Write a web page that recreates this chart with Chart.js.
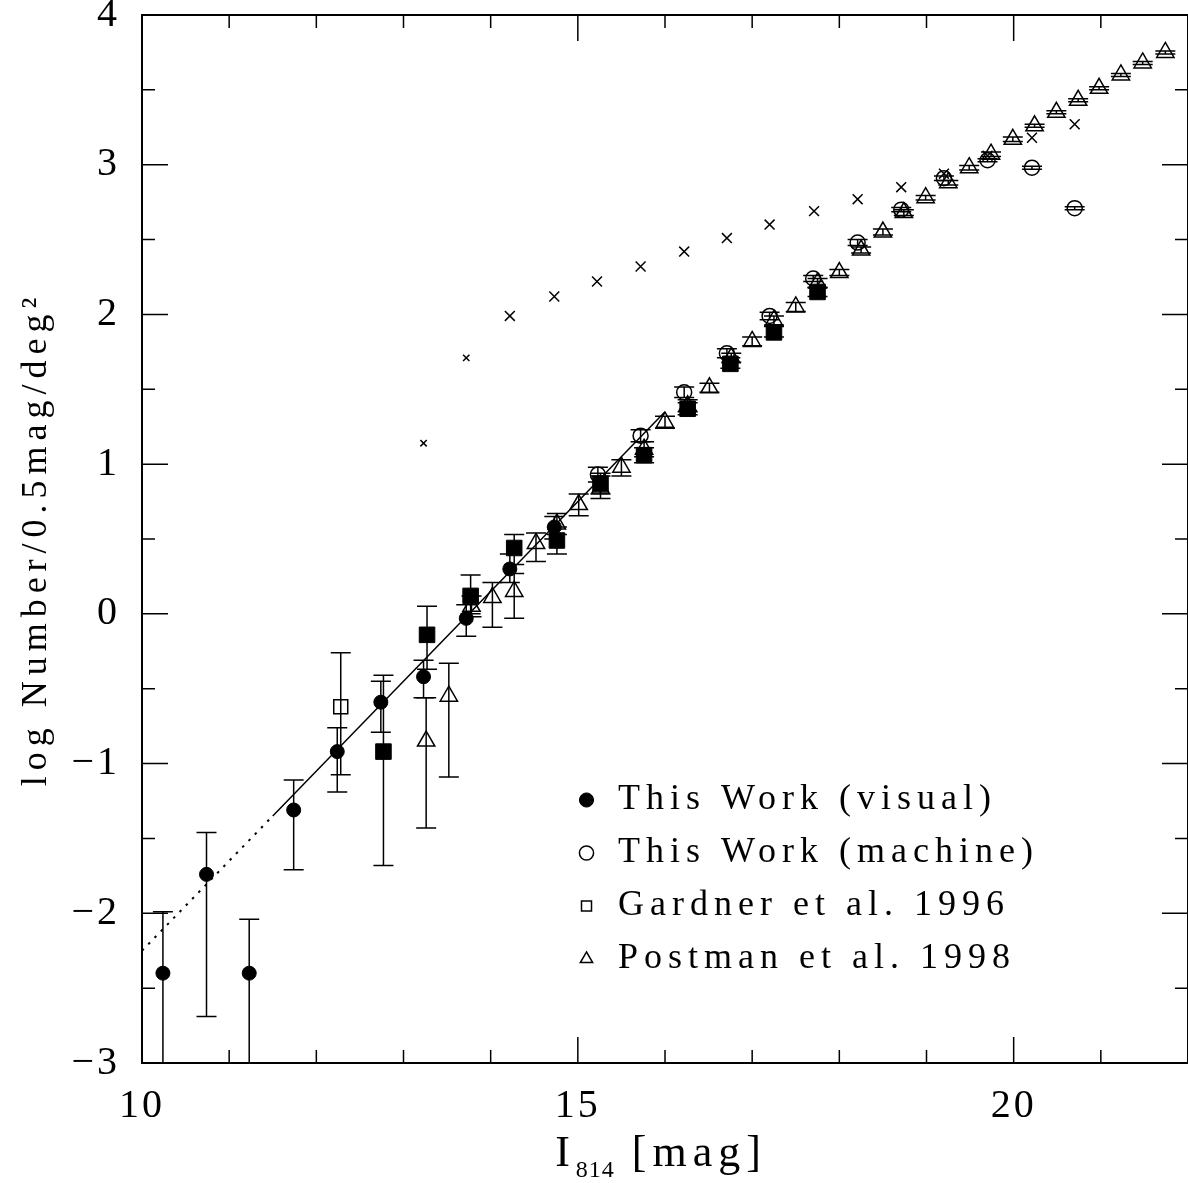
<!DOCTYPE html>
<html>
<head>
<meta charset="utf-8">
<title>I814 number counts</title>
<script src="https://cdn.jsdelivr.net/npm/chart.js@4.4.0/dist/chart.umd.min.js"></script>
<style>
  html, body { margin: 0; padding: 0; background: #fff; overflow: hidden; }
  #wrap { width: 1188px; height: 1183px; overflow: hidden; }
  canvas { display: block; }
</style>
</head>
<body>
<div id="wrap"><canvas id="counts" width="1200" height="1183"></canvas></div>
<script>
// ---- This Work (visual): filled circles ----
const visualMag  = [10.24, 10.74, 11.23, 11.74, 12.24, 12.74, 13.23, 13.72, 14.22, 14.73];
const visualLogN = [-2.40, -1.74, -2.40, -1.31, -0.92, -0.59, -0.42, -0.03, 0.30, 0.58];
const visualLo   = [-3.60, -2.69, -3.60, -1.71, -1.19, -0.79, -0.56, -0.15, 0.21, 0.50];
const visualHi   = [-1.99, -1.46, -2.04, -1.11, -0.76, -0.45, -0.31, 0.06, 0.40, 0.65];

// ---- visual counts, second binning: filled squares ----
const binMag  = [12.77, 13.27, 13.77, 14.27, 14.76, 15.26, 15.76, 16.26, 16.75, 17.25, 17.75];
const binLogN = [-0.92, -0.14, 0.12, 0.44, 0.49, 0.87, 1.06, 1.37, 1.67, 1.88, 2.15];
const binLo   = [-1.68, -0.37, 0.00, 0.33, 0.40, 0.80, 1.01, 1.33, 1.64, 1.85, 2.12];
const binHi   = [-0.41, 0.05, 0.26, 0.53, 0.58, 0.94, 1.11, 1.41, 1.71, 1.92, 2.18];

// ---- This Work (machine): open circles ----
const machineMag  = [15.23, 15.72, 16.22, 16.71, 17.20, 17.70, 18.21, 18.71, 19.20, 19.70, 20.21, 20.70];
const machineLogN = [0.93, 1.19, 1.48, 1.74, 1.99, 2.24, 2.48, 2.70, 2.91, 3.03, 2.98, 2.71];
const machineLo   = [0.88, 1.15, 1.445, 1.71, 1.965, 2.22, 2.46, 2.685, 2.895, 3.02, 2.97, 2.70];
const machineHi   = [0.98, 1.23, 1.515, 1.77, 2.015, 2.26, 2.50, 2.715, 2.925, 3.04, 2.99, 2.72];

// ---- Gardner et al. 1996: open square ----
const gardnerMag  = [12.28];
const gardnerLogN = [-0.62];
const gardnerLo   = [-1.075];
const gardnerHi   = [-0.26];

// ---- Postman et al. 1998: open triangles ----
const postmanMag  = [13.26, 13.52, 13.78, 14.02, 14.27, 14.52, 14.76, 15.01, 15.26, 15.50, 15.76, 16.00,
                     16.26, 16.51, 16.76, 17.00, 17.25, 17.50, 17.75, 18.00, 18.25, 18.50, 18.74, 18.99,
                     19.25, 19.49, 19.74, 19.99, 20.24, 20.49, 20.74, 20.98, 21.23, 21.48, 21.74];
const postmanLogN = [-0.85, -0.55, 0.05, 0.11, 0.15, 0.47, 0.60, 0.73, 0.84, 0.98, 1.10, 1.28,
                     1.39, 1.51, 1.71, 1.82, 1.96, 2.05, 2.21, 2.28, 2.43, 2.55, 2.68, 2.78,
                     2.88, 2.98, 3.07, 3.17, 3.26, 3.35, 3.43, 3.51, 3.60, 3.68, 3.75];
const postmanLo   = [-1.43, -1.09, -0.02, -0.09, -0.03, 0.35, 0.53, 0.655, 0.77, 0.92, 1.05, 1.24,
                     1.35, 1.48, 1.68, 1.79, 1.93, 2.02, 2.18, 2.26, 2.41, 2.53, 2.66, 2.765,
                     2.865, 2.965, 3.055, 3.155, 3.25, 3.34, 3.42, 3.50, 3.59, 3.67, 3.74];
const postmanHi   = [-0.56, -0.33, 0.12, 0.21, 0.27, 0.54, 0.67, 0.80, 0.92, 1.03, 1.15, 1.32,
                     1.43, 1.54, 1.74, 1.85, 1.99, 2.08, 2.24, 2.30, 2.45, 2.57, 2.70, 2.795,
                     2.895, 2.995, 3.085, 3.185, 3.27, 3.36, 3.44, 3.52, 3.61, 3.69, 3.76];

// ---- star counts: crosses ----
const starMag  = [13.23, 13.72, 14.22, 14.73, 15.22, 15.72, 16.22, 16.71, 17.20, 17.71, 18.21, 18.71, 19.20, 19.70, 20.21, 20.70];
const starLogN = [1.14, 1.71, 1.99, 2.12, 2.22, 2.32, 2.42, 2.51, 2.60, 2.69, 2.77, 2.85, 2.94, 3.06, 3.18, 3.27];

// ---- power-law fit (solid) and its bright-end extrapolation (dotted) ----
const fitMag  = [11.5, 16.0];
const fitLogN = [-1.35, 1.35];
const extMag  = [10.0, 11.5];
const extLogN = [-2.25, -1.35];

// ---- axes ----
const xTickValues = [10, 15, 20];
const yTickValues = [-3, -2, -1, 0, 1, 2, 3, 4];
const legendLabels = ['This Work (visual)', 'This Work (machine)', 'Gardner et al. 1996', 'Postman et al. 1998'];
const yTitle = 'log Number/0.5mag/deg\u00B2';
const xTitleMain = 'I';
const xTitleSub = '814';
const xTitleUnit = '[mag]';

const FONT = '"Liberation Serif", "DejaVu Serif", serif';
const SPACING = '6px';       // tracking for titles and key
const TICK_SPACING = '3px';  // tracking for tick numbers
const CAP = 10;              // half width of error-bar caps
const MAJOR_TICK = 26;
const MINOR_TICK = 13;

const pts = (xs, ys) => xs.map((v, i) => ({ x: v, y: ys[i] }));

// tick numbers are set a little tighter than the other text
function tightenTickLabels(chart) {
  ['x', 'y'].forEach(id => {
    const s = chart.scales[id];
    if (!s || s.__tight) return;
    const orig = s.drawLabels;
    s.drawLabels = function (area) {
      const c = this.ctx, prev = c.letterSpacing;
      c.letterSpacing = TICK_SPACING;
      orig.call(this, area);
      c.letterSpacing = prev;
    };
    s.__tight = true;
  });
}

const frameAndBars = {
  id: 'frameAndBars',
  beforeUpdate(chart) { chart.ctx.letterSpacing = SPACING; },
  beforeDraw(chart) { chart.ctx.letterSpacing = SPACING; tightenTickLabels(chart); },
  afterLayout(chart) {
    // place the key in the lower right of the plotting region
    const lg = chart.legend;
    if (!lg) return;
    const w = lg.width, h = lg.height;
    lg.left = 556; lg.top = 765;
    lg.right = lg.left + w; lg.bottom = lg.top + h;
  },
  beforeDatasetsDraw(chart) {
    const { ctx, chartArea: ca, scales: { x, y } } = chart;
    ctx.save();
    ctx.beginPath();
    ctx.rect(ca.left, ca.top, ca.right - ca.left, ca.bottom - ca.top);
    ctx.clip();
    ctx.strokeStyle = '#000';
    ctx.lineWidth = 1.5;
    chart.data.datasets.forEach(ds => {
      if (!ds.errLo) return;
      ds.data.forEach((p, i) => {
        const px = x.getPixelForValue(p.x);
        const lo = y.getPixelForValue(ds.errLo[i]);
        const hi = y.getPixelForValue(ds.errHi[i]);
        ctx.beginPath();
        ctx.moveTo(px, lo); ctx.lineTo(px, hi);
        ctx.moveTo(px - CAP, lo); ctx.lineTo(px + CAP, lo);
        ctx.moveTo(px - CAP, hi); ctx.lineTo(px + CAP, hi);
        ctx.stroke();
      });
    });
    ctx.restore();
  },
  afterDatasetsDraw(chart) {
    const { ctx, chartArea: ca, scales: { x, y } } = chart;
    ctx.save();
    ctx.strokeStyle = '#000';
    ctx.lineWidth = 1.5;
    ctx.beginPath();
    // inward ticks on bottom and top: every magnitude, long every 5
    for (let v = Math.ceil(x.min); v <= x.max; v += 1) {
      const px = x.getPixelForValue(v);
      const len = (v % 5 === 0) ? MAJOR_TICK : MINOR_TICK;
      ctx.moveTo(px, ca.bottom); ctx.lineTo(px, ca.bottom - len);
      ctx.moveTo(px, ca.top); ctx.lineTo(px, ca.top + len);
    }
    // inward ticks on left and right: every 0.5 dex, long every 1
    for (let k = Math.ceil(y.min * 2); k <= y.max * 2; k += 1) {
      const py = y.getPixelForValue(k / 2);
      const len = (k % 2 === 0) ? MAJOR_TICK : MINOR_TICK;
      ctx.moveTo(ca.left, py); ctx.lineTo(ca.left + len, py);
      ctx.moveTo(ca.right, py); ctx.lineTo(ca.right - len, py);
    }
    ctx.stroke();
    ctx.lineWidth = 2;
    ctx.strokeRect(ca.left, ca.top, ca.right - ca.left, ca.bottom - ca.top);
    ctx.restore();
  },
  afterDraw(chart) {
    // x-axis title with subscripted band name
    const { ctx, chartArea: ca } = chart;
    ctx.save();
    ctx.fillStyle = '#000';
    ctx.textAlign = 'left';
    ctx.textBaseline = 'alphabetic';
    const big = '44px ' + FONT, small = '24px ' + FONT;
    ctx.letterSpacing = SPACING;
    ctx.font = big;  const wMain = ctx.measureText(xTitleMain).width;
    ctx.font = big;  const wUnit = ctx.measureText(' ' + xTitleUnit).width;
    ctx.letterSpacing = '1px';
    ctx.font = small; const wSub = ctx.measureText(xTitleSub).width;
    const baseY = 1166;
    let px = (ca.left + ca.right) / 2 - 4 - (wMain + wSub + wUnit) / 2;
    ctx.letterSpacing = SPACING;
    ctx.font = big;  ctx.fillText(xTitleMain, px, baseY); px += wMain;
    ctx.letterSpacing = '1px';
    ctx.font = small; ctx.fillText(xTitleSub, px, baseY + 11); px += wSub;
    ctx.letterSpacing = SPACING;
    ctx.font = big;  ctx.fillText(' ' + xTitleUnit, px, baseY);
    ctx.restore();
  }
};

const minusFmt = v => (v < 0 ? '\u2212' + Math.abs(v) : String(v));

new Chart(document.getElementById('counts'), {
  type: 'scatter',
  data: {
    datasets: [
      { label: legendLabels[0], data: pts(visualMag, visualLogN), errLo: visualLo, errHi: visualHi,
        pointStyle: 'circle', pointRadius: 7, backgroundColor: '#000', borderColor: '#000', borderWidth: 1 },
      { label: legendLabels[1], data: pts(machineMag, machineLogN), errLo: machineLo, errHi: machineHi,
        pointStyle: 'circle', pointRadius: 7.5, backgroundColor: 'rgba(0,0,0,0)', borderColor: '#000', borderWidth: 1.5 },
      { label: legendLabels[2], data: pts(gardnerMag, gardnerLogN), errLo: gardnerLo, errHi: gardnerHi,
        pointStyle: 'rect', pointRadius: 9.9, backgroundColor: 'rgba(0,0,0,0)', borderColor: '#000', borderWidth: 1.5 },
      { label: legendLabels[3], data: pts(postmanMag, postmanLogN), errLo: postmanLo, errHi: postmanHi,
        pointStyle: 'triangle', pointRadius: 10, backgroundColor: 'rgba(0,0,0,0)', borderColor: '#000', borderWidth: 1.5 },
      { label: 'visual (0.5 mag bins)', data: pts(binMag, binLogN), errLo: binLo, errHi: binHi,
        pointStyle: 'rect', pointRadius: 11, backgroundColor: '#000', borderColor: '#000', borderWidth: 1 },
      { label: 'stars', data: pts(starMag, starLogN),
        pointStyle: 'crossRot', pointRadius: c => (c.dataIndex < 2 ? 4.5 : 7),
        backgroundColor: '#000', borderColor: '#000', borderWidth: 1.5 },
      { label: 'fit', data: pts(fitMag, fitLogN), showLine: true, pointRadius: 0,
        borderColor: '#000', borderWidth: 1.5 },
      { label: 'fit extrapolation', data: pts(extMag, extLogN), showLine: true, pointRadius: 0,
        borderColor: '#000', borderWidth: 2, borderDash: [2.5, 6.5] }
    ]
  },
  options: {
    responsive: false,
    animation: false,
    events: [],
    layout: { padding: { top: 15, right: 7, left: 0, bottom: 0 } },
    scales: {
      x: {
        type: 'linear', min: 10, max: 22,
        grid: { display: false }, border: { display: false },
        ticks: { font: { family: FONT, size: 40 }, color: '#000', padding: 11, maxRotation: 0, autoSkip: false },
        afterBuildTicks: s => { s.ticks = xTickValues.map(v => ({ value: v })); },
        afterFit: s => { s.height = 120; s.paddingLeft = 0; s.paddingRight = 0; }
      },
      y: {
        type: 'linear', min: -3, max: 4,
        grid: { display: false }, border: { display: false },
        ticks: { font: { family: FONT, size: 40 }, color: '#000', padding: 14, autoSkip: false, callback: minusFmt },
        afterBuildTicks: s => { s.ticks = yTickValues.map(v => ({ value: v })); },
        afterFit: s => { s.width = 142; s.paddingTop = 0; s.paddingBottom = 0; },
        title: { display: true, text: yTitle, color: '#000', font: { family: FONT, size: 36 }, padding: { top: 15, bottom: 0 } }
      }
    },
    plugins: {
      legend: {
        position: 'chartArea', align: 'start',
        labels: {
          usePointStyle: true, boxWidth: 27, boxHeight: 10, padding: 17, color: '#000',
          font: { family: FONT, size: 36 },
          filter: item => item.datasetIndex < 4
        }
      },
      tooltip: { enabled: false }
    }
  },
  plugins: [frameAndBars]
});
</script>
</body>
</html>
